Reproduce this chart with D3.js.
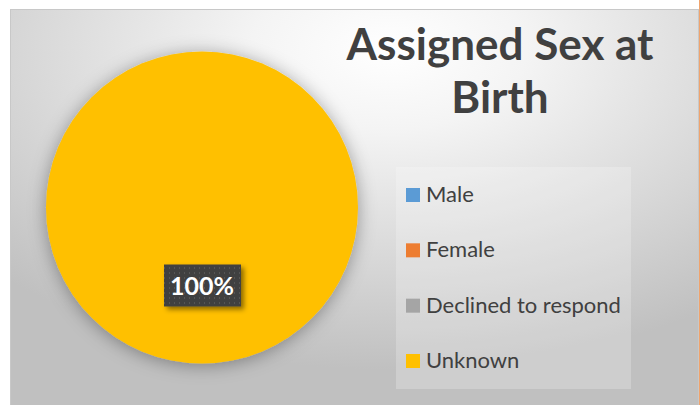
<!DOCTYPE html>
<html>
<head>
<meta charset="utf-8">
<script src="https://cdn.jsdelivr.net/npm/d3@7"></script>
<style>
  body { margin: 0; background: #fff; }
  svg { display: block; }
</style>
</head>
<body>
<div id="chart"></div>
<script>
const categories = ["Male", "Female", "Declined to respond", "Unknown"];
const values = [0, 0, 0, 100];
const colors = ["#5B9BD5", "#ED7D31", "#A5A5A5", "#FFC000"];
const titleLines = ["Assigned Sex at", "Birth"];

const width = 700;
const height = 405;

const svg = d3
  .select("#chart")
  .append("svg")
  .attr("width", width)
  .attr("height", height);

const defs = svg.append("defs");

const grad = defs
  .append("radialGradient")
  .attr("id", "bg")
  .attr("cx", 0.55)
  .attr("cy", 0.1)
  .attr("r", 0.8);
grad.append("stop").attr("offset", 0).attr("stop-color", "#ffffff");
grad.append("stop").attr("offset", 0.25).attr("stop-color", "#f4f4f4");
grad.append("stop").attr("offset", 1).attr("stop-color", "#c0c0c0");

const pieShadow = defs.append("filter").attr("id", "pieShadow")
  .attr("x", "-20%").attr("y", "-20%").attr("width", "140%").attr("height", "140%");
pieShadow.append("feDropShadow")
  .attr("dx", 0).attr("dy", 2).attr("stdDeviation", 9)
  .attr("flood-color", "#000").attr("flood-opacity", 0.35);

const labelShadow = defs.append("filter").attr("id", "labelShadow")
  .attr("x", "-30%").attr("y", "-30%").attr("width", "170%").attr("height", "170%");
labelShadow.append("feDropShadow")
  .attr("dx", 3).attr("dy", 3).attr("stdDeviation", 2.5)
  .attr("flood-color", "#000").attr("flood-opacity", 0.45);

const dots = defs.append("pattern").attr("id", "dots")
  .attr("patternUnits", "userSpaceOnUse").attr("width", 5).attr("height", 5);
dots.append("rect").attr("width", 5).attr("height", 5).attr("fill", "#404040");
dots.append("rect").attr("x", 2).attr("y", 2).attr("width", 1).attr("height", 1).attr("fill", "#6a6a6a");

// chart area
svg.append("rect")
  .attr("x", 10.5).attr("y", 9.5)
  .attr("width", 688).attr("height", 400)
  .attr("fill", "url(#bg)")
  .attr("stroke", "#c8c8c8");
svg.append("line")
  .attr("x1", 699.5).attr("x2", 699.5).attr("y1", 0).attr("y2", height)
  .attr("stroke", "#f0a46e");

// pie
const color = d3.scaleOrdinal().domain(categories).range(colors);
const data = categories.map((c, i) => ({ name: c, value: values[i] }));
const total = d3.sum(values);

const cx = 202, cy = 207.5, r = 156;
const pie = d3.pie().sort(null).value((d) => d.value);
const arc = d3.arc().innerRadius(0).outerRadius(r);
const labelArc = d3.arc().innerRadius(r * 0.5).outerRadius(r * 0.5);

const g = svg.append("g").attr("transform", `translate(${cx},${cy})`);

g.append("g")
  .attr("filter", "url(#pieShadow)")
  .selectAll("path")
  .data(pie(data).filter((d) => d.data.value > 0))
  .join("path")
  .attr("d", arc)
  .attr("fill", (d) => color(d.data.name));

const labels = g.selectAll("g.label")
  .data(pie(data).filter((d) => d.data.value > 0))
  .join("g")
  .attr("class", "label")
  .attr("transform", (d) => `translate(${labelArc.centroid(d)})`);

labels.append("rect")
  .attr("x", -38).attr("y", -21)
  .attr("width", 77).attr("height", 42)
  .attr("fill", "url(#dots)")
  .attr("filter", "url(#labelShadow)");

labels.append("text")
  .attr("text-anchor", "middle")
  .attr("dy", "0.36em")
  .attr("fill", "#fff")
  .attr("font-family", "Lato, 'Open Sans', sans-serif")
  .attr("font-weight", "bold")
  .attr("font-size", 25)
  .text((d) => d3.format(".0%")(d.data.value / total));

// title
const title = svg.append("g")
  .attr("fill", "#404040")
  .attr("font-family", "Lato, 'Open Sans', sans-serif")
  .attr("font-weight", "bold")
  .attr("text-anchor", "middle");

const titleY = d3.scalePoint().domain(titleLines).range([60, 113]);
title.selectAll("text")
  .data(titleLines)
  .join("text")
  .attr("x", 500)
  .attr("y", (d) => titleY(d))
  .attr("font-size", 44)
  .text((d) => d);

// fit title width to the reference (line 1 ~307px wide)
const t0 = title.select("text").node();
const fs = 44 * 307 / t0.getComputedTextLength();
title.selectAll("text").attr("font-size", fs);

// legend
svg.append("rect")
  .attr("x", 396).attr("y", 167)
  .attr("width", 235).attr("height", 222)
  .attr("fill", "#ffffff")
  .attr("fill-opacity", 0.22);

const legendY = d3.scalePoint().domain(categories).range([195, 361]);
const legend = svg.append("g")
  .attr("font-family", "Lato, 'Open Sans', sans-serif")
  .attr("fill", "#404040");

const items = legend.selectAll("g")
  .data(categories)
  .join("g")
  .attr("transform", (d) => `translate(406,${legendY(d)})`);

items.append("rect")
  .attr("x", 0).attr("y", -7)
  .attr("width", 14).attr("height", 14)
  .attr("fill", (d) => color(d));

items.append("text")
  .attr("x", 20)
  .attr("y", 7)
  .attr("font-size", 21)
  .text((d) => d);

// fit legend font so "Declined to respond" spans ~195px
const longest = items.filter((d) => d === "Declined to respond").select("text").node();
const lfs = 21 * 195 / longest.getComputedTextLength();
items.selectAll("text").attr("font-size", lfs);
</script>
</body>
</html>
